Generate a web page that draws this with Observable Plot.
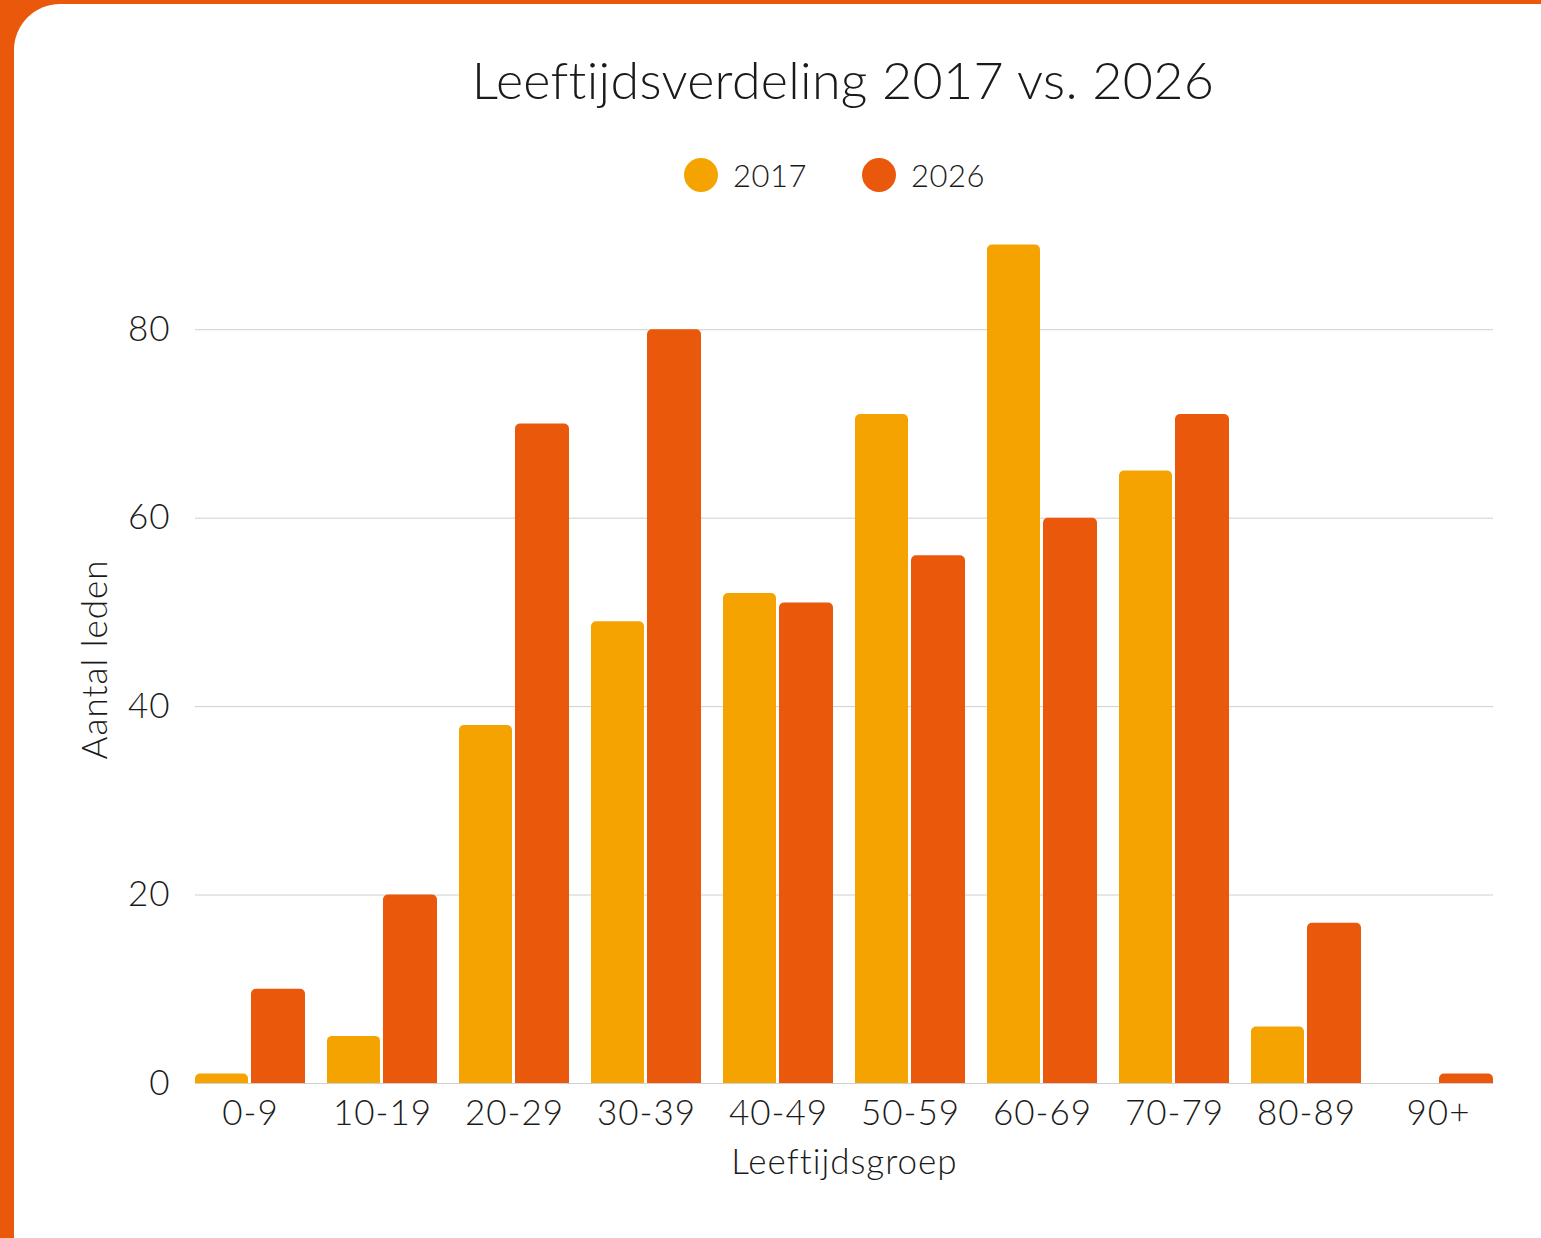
<!DOCTYPE html>
<html>
<head>
<meta charset="utf-8">
<script src="https://cdn.jsdelivr.net/npm/d3@7"></script>
<script src="https://cdn.jsdelivr.net/npm/@observablehq/plot@0.6"></script>
<style>
  html, body { margin: 0; padding: 0; }
  body { width: 1541px; height: 1238px; background: #EA580C; overflow: hidden; position: relative; font-family: Lato, Inter, sans-serif; font-weight: 300; color: #1a1a1a; }
  #card { position: absolute; left: 14px; top: 4px; width: 1600px; height: 1300px; background: #fff; border-radius: 46px; }
  #title { position: absolute; left: 0; width: 1686px; top: 49px; text-align: center; font-size: 52px; font-weight: 300; line-height: 60px; letter-spacing: 0.3px; }
  #legend { position: absolute; top: 155px; left: 0; width: 1541px; height: 40px; }
  .sw { position: absolute; width: 34px; height: 34px; border-radius: 50%; top: 3px; }
  .lt { position: absolute; font-size: 31px; font-weight: 300; line-height: 40px; top: 0; letter-spacing: 0.5px; }
  #chart { position: absolute; left: 0; top: 0; }
  #chart svg text { letter-spacing: 1px; }
</style>
</head>
<body>
<div id="card"></div>
<div id="title"></div>
<div id="legend"></div>
<div id="chart"></div>
<script>
const title = "Leeftijdsverdeling 2017 vs. 2026";
const groups = ["0-9", "10-19", "20-29", "30-39", "40-49", "50-59", "60-69", "70-79", "80-89", "90+"];
const series = ["2017", "2026"];
const values2017 = [1, 5, 38, 49, 52, 71, 89, 65, 6, 0];
const values2026 = [10, 20, 70, 80, 51, 56, 60, 71, 17, 1];
const colors = ["#F5A300", "#EA580C"];
const yTicks = [0, 20, 40, 60, 80];
const xLabel = "Leeftijdsgroep";
const yLabel = "Aantal leden";

document.getElementById("title").textContent = title;

const legend = document.getElementById("legend");
const legendX = [684, 862];
series.forEach((s, i) => {
  const sw = document.createElement("div");
  sw.className = "sw";
  sw.style.left = legendX[i] + "px";
  sw.style.background = colors[i];
  legend.appendChild(sw);
  const t = document.createElement("div");
  t.className = "lt";
  t.style.left = (legendX[i] + 49) + "px";
  t.textContent = s;
  legend.appendChild(t);
});

const data2017 = groups.map((g, i) => ({group: g, year: series[0], value: values2017[i]}));
const data2026 = groups.map((g, i) => ({group: g, year: series[1], value: values2026[i]}));

const chart = Plot.plot({
  width: 1541,
  height: 1200,
  marginLeft: 195,
  marginRight: 48,
  marginTop: 235,
  marginBottom: 117,
  style: {fontFamily: "Lato, Inter, sans-serif", fontSize: "34px", fontWeight: 300, color: "#1a1a1a", background: "transparent"},
  x: {domain: groups, paddingInner: 1/6, paddingOuter: 0, label: null},
  y: {domain: [0, 90], ticks: yTicks, label: null},
  color: {domain: series, range: colors},
  marks: [
    Plot.gridY(yTicks, {stroke: "#cfcfcf", strokeOpacity: 1, strokeWidth: 1}),
    Plot.axisY(yTicks, {tickSize: 0, tickPadding: 25, label: yLabel, labelArrow: "none", labelAnchor: "center", labelOffset: 113, fontSize: 35}),
    Plot.axisX({anchor: "bottom", tickSize: 0, tickPadding: 17, label: xLabel, labelArrow: "none", labelAnchor: "center", labelOffset: 90, fontSize: 35}),
    Plot.barY(data2017, {x: "group", y: "value", fill: "year", insetRight: 57, ry1: 5}),
    Plot.barY(data2026, {x: "group", y: "value", fill: "year", insetLeft: 56, ry1: 5})
  ]
});
document.getElementById("chart").appendChild(chart);
</script>
</body>
</html>
